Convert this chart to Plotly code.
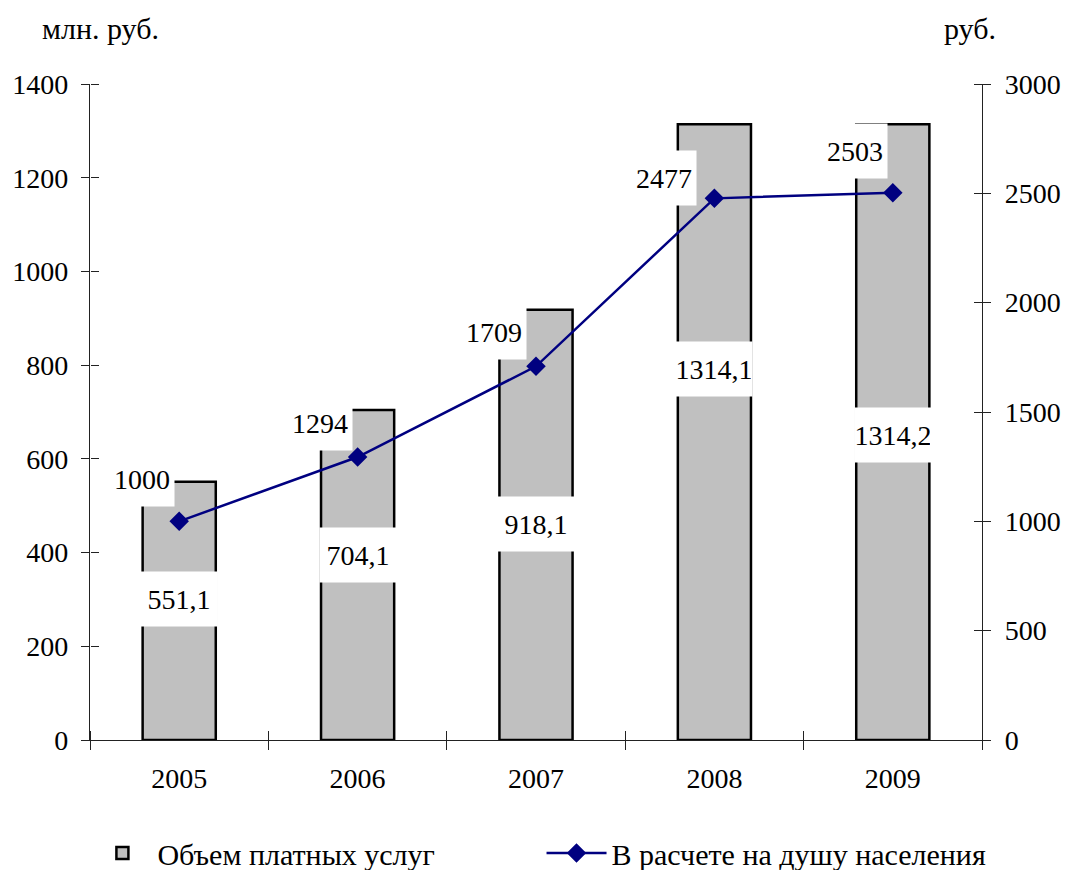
import plotly.graph_objects as go

years = ["2005", "2006", "2007", "2008", "2009"]
volume = [551.1, 704.1, 918.1, 1314.1, 1314.2]          # млн. руб.
per_capita = [1000, 1294, 1709, 2477, 2503]             # руб.
volume_labels = ["551,1", "704,1", "918,1", "1314,1", "1314,2"]
per_capita_labels = ["1000", "1294", "1709", "2477", "2503"]

# label placement (layout only)
bar_label_y = [301, 395, 461, 792, 651]
line_label_shift = [(-37, 42), (-38, 34), (-42, 34), (-50, 20), (-38, 42)]

FONT = "Liberation Serif, Times New Roman, serif"
FS = 28
FS_TXT = 30

W, H = 1066, 870

fig = go.Figure()
fig.add_trace(go.Bar(
    x=years, y=volume, name="Объем платных услуг",
    marker=dict(color="#C0C0C0", line=dict(color="black", width=2.5)),
    width=0.41, yaxis="y", legend="legend",
))
fig.add_trace(go.Scatter(
    x=years, y=per_capita, name="В расчете на душу населения",
    mode="lines+markers", yaxis="y2", legend="legend2",
    line=dict(color="#000080", width=2.5),
    marker=dict(symbol="diamond", size=15, color="#000080"),
    cliponaxis=False,
))
# invisible helpers so the inner tick axes get drawn
fig.add_trace(go.Scatter(x=[0], y=[0], xaxis="x2", yaxis="y3", mode="markers",
                         marker=dict(opacity=0), showlegend=False, hoverinfo="skip"))
fig.add_trace(go.Scatter(x=[0], y=[0], xaxis="x2", yaxis="y4", mode="markers",
                         marker=dict(opacity=0), showlegend=False, hoverinfo="skip"))

ann = []
for i, (v, t) in enumerate(zip(bar_label_y, volume_labels)):
    ann.append(dict(x=i, y=v, xref="x", yref="y", text=t, showarrow=False,
                    bgcolor="white", width=74, height=52,
                    font=dict(family=FONT, size=FS, color="black")))
for i, (v, t, (dx, dy)) in enumerate(zip(per_capita, per_capita_labels, line_label_shift)):
    ann.append(dict(x=i, y=v, xref="x", yref="y2", text=t, showarrow=False,
                    bgcolor="white", width=62, height=52, xshift=dx, yshift=dy,
                    font=dict(family=FONT, size=FS, color="black")))
ann.append(dict(x=0.012, y=1.085, xref="paper", yref="paper", text="млн. руб.",
                xanchor="center", yanchor="middle",
                showarrow=False, font=dict(family=FONT, size=FS_TXT, color="black")))
ann.append(dict(x=0.987, y=1.085, xref="paper", yref="paper", text="руб.",
                xanchor="center", yanchor="middle",
                showarrow=False, font=dict(family=FONT, size=FS_TXT, color="black")))

axis_common = dict(showgrid=False, zeroline=False, linecolor="#222", linewidth=1.2,
                   tickcolor="#222", tickwidth=1.2)

legend_common = dict(orientation="h", xref="container", yref="container",
                     xanchor="left", yanchor="middle", y=0.0195, itemwidth=60,
                     bgcolor="rgba(0,0,0,0)",
                     font=dict(family=FONT, size=FS_TXT, color="black"))

fig.update_layout(
    width=W, height=H,
    margin=dict(l=90, r=84, t=84, b=130, autoexpand=False),
    paper_bgcolor="white", plot_bgcolor="white",
    font=dict(family=FONT, size=FS, color="black"),
    showlegend=True,
    legend=dict(x=0.082, **legend_common),
    legend2=dict(x=0.508, **legend_common),
    xaxis=dict(type="category", tickson="boundaries", ticks="outside", ticklen=9,
               showline=True, range=[-0.5, 4.5], ticklabelstandoff=13, **axis_common),
    # inner halves of the crossing tick marks
    xaxis2=dict(overlaying="x", anchor="free", position=0, side="top", type="linear",
                range=[-0.5, 4.5], tickvals=[-0.5, 0.5, 1.5, 2.5, 3.5, 4.5],
                ticks="outside", ticklen=9, showticklabels=False, showline=False,
                **axis_common),
    yaxis=dict(range=[0, 1400], dtick=200, ticks="outside", ticklen=8, showline=True,
               ticklabelstandoff=7, **axis_common),
    yaxis3=dict(overlaying="y", anchor="free", position=0, side="right",
                range=[0, 1400], dtick=200, ticks="outside", ticklen=8,
                showticklabels=False, showline=False, **axis_common),
    yaxis2=dict(overlaying="y", side="right", anchor="x", range=[0, 3000], dtick=500,
                ticks="outside", ticklen=8, showline=True, ticklabelstandoff=8, **axis_common),
    yaxis4=dict(overlaying="y", anchor="free", position=1, side="left",
                range=[0, 3000], dtick=500, ticks="outside", ticklen=8,
                showticklabels=False, showline=False, **axis_common),
    annotations=ann,
)

fig.write_html("out.html",
               config={"displayModeBar": False},
               post_script="document.body.style.margin='0';"
                           "document.body.style.overflow='hidden';")
